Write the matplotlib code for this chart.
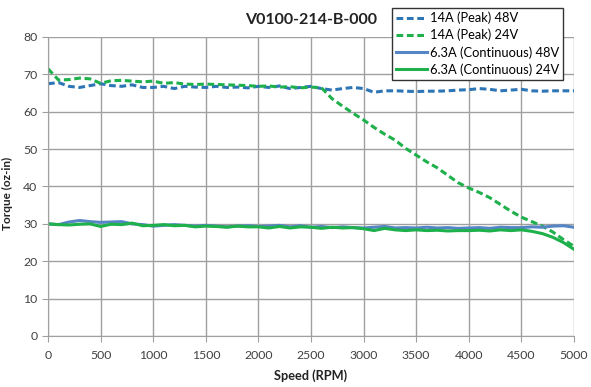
import matplotlib
matplotlib.use("Agg")
import matplotlib.pyplot as plt
import numpy as np

plt.rcParams['font.family'] = ['Lato', 'DejaVu Sans']

speed = np.arange(0, 5001, 100)

peak_48v = [67.5, 67.8, 66.8, 66.5, 67.0, 67.5, 67.0, 66.8, 67.2, 66.5,
            66.5, 66.8, 66.2, 66.8, 66.6, 66.5, 66.8, 66.5, 66.6, 66.4,
            66.8, 66.5, 66.9, 66.2, 66.5, 66.8, 66.2, 65.8, 66.2, 66.5,
            66.2, 65.2, 65.6, 65.6, 65.5, 65.4, 65.5, 65.5, 65.6, 65.8,
            65.9, 66.2, 66.0, 65.6, 65.8, 66.0, 65.6, 65.5, 65.6, 65.6,
            65.6]
peak_24v = [71.5, 68.5, 68.6, 69.0, 68.8, 67.6, 68.3, 68.4, 68.2, 68.0,
            68.2, 67.6, 67.8, 67.4, 67.3, 67.4, 67.3, 67.2, 67.1, 67.0,
            66.8, 66.9, 66.6, 66.7, 66.4, 66.6, 66.4, 63.5, 61.5, 59.6,
            57.8, 55.8, 54.0, 52.4, 50.2, 48.4, 46.6, 45.0, 43.0, 41.0,
            39.6, 38.4, 37.0, 35.2, 33.4, 31.8, 30.6, 29.4, 27.8, 25.8,
            24.0]
cont_48v = [30.0, 29.8, 30.5, 30.9, 30.6, 30.4, 30.5, 30.6, 30.0, 29.8,
            29.4, 29.6, 29.8, 29.6, 29.4, 29.6, 29.4, 29.2, 29.4, 29.5,
            29.3, 29.4, 29.6, 29.2, 29.5, 29.1, 29.3, 29.0, 29.2, 29.0,
            28.9, 29.1, 29.3, 28.9, 29.0, 28.9, 29.1, 28.9, 29.0, 28.8,
            28.9, 29.0, 28.8, 29.1, 29.0, 29.0, 29.2, 29.1, 29.4, 29.5,
            29.1]
cont_24v = [30.0, 29.8, 29.7, 29.9, 30.0, 29.3, 29.9, 29.8, 30.2, 29.5,
            29.6, 29.8, 29.5, 29.6, 29.2, 29.4, 29.3, 29.1, 29.4, 29.2,
            29.2, 28.9, 29.3, 28.9, 29.2, 29.1, 28.8, 29.1, 28.9, 29.0,
            28.7, 28.2, 28.8, 28.4, 28.2, 28.4, 28.2, 28.3, 28.1, 28.2,
            28.2, 28.3, 28.1, 28.4, 28.2, 28.4, 28.0, 27.4, 26.4, 25.0,
            23.2]

fig = plt.figure(figsize=(5.91, 3.87), dpi=100)
ax = fig.add_axes([0.0812, 0.1318, 0.89, 0.7726])

ax.plot(speed, peak_48v, color='#2e75b6', lw=2.2, ls=(0, (2.2, 1.2)), label='14A (Peak) 48V')
ax.plot(speed, peak_24v, color='#1db04b', lw=2.2, ls=(0, (2.2, 1.2)), label='14A (Peak) 24V')
ax.plot(speed, cont_48v, color='#5585c5', lw=2.2, label='6.3A (Continuous) 48V')
ax.plot(speed, cont_24v, color='#1db04b', lw=2.2, label='6.3A (Continuous) 24V')

ax.set_xlim(0, 5000)
ax.set_ylim(0, 80)
ax.set_xticks(np.arange(0, 5001, 500))
ax.set_yticks(np.arange(0, 81, 10))
ax.grid(True, color='#a0a0a0', lw=1)
ax.set_axisbelow(True)
for s in ['top', 'right']:
    ax.spines[s].set_visible(False)
for s in ['left', 'bottom']:
    ax.spines[s].set_color('#a0a0a0')
ax.tick_params(colors='#a0a0a0', labelcolor='#404040', labelsize=8.8, length=4, direction='out')
ax.tick_params(axis='x', pad=6)

ax.set_title('V0100-214-B-000', fontsize=11.5, fontweight='bold', color='#222222', pad=9)
ax.set_xlabel('Speed (RPM)', fontsize=9.2, fontweight='bold', color='#222222', labelpad=6)
fig.text(0.013, 0.5, 'Torque (oz-in)', rotation=90, fontsize=8.5, fontweight='bold',
         color='#222222', ha='center', va='center')

leg = fig.legend(loc='upper left', bbox_to_anchor=(392 / 591, 1 - 8 / 387), fontsize=9.3,
                 frameon=True, fancybox=False, handlelength=2.4, handletextpad=0.25,
                 labelspacing=0.35, borderpad=0.3, borderaxespad=0)
leg.get_frame().set_edgecolor('#333333')
leg.get_frame().set_linewidth(1)
leg.get_frame().set_alpha(1)

fig.savefig('out.png', dpi=100)
